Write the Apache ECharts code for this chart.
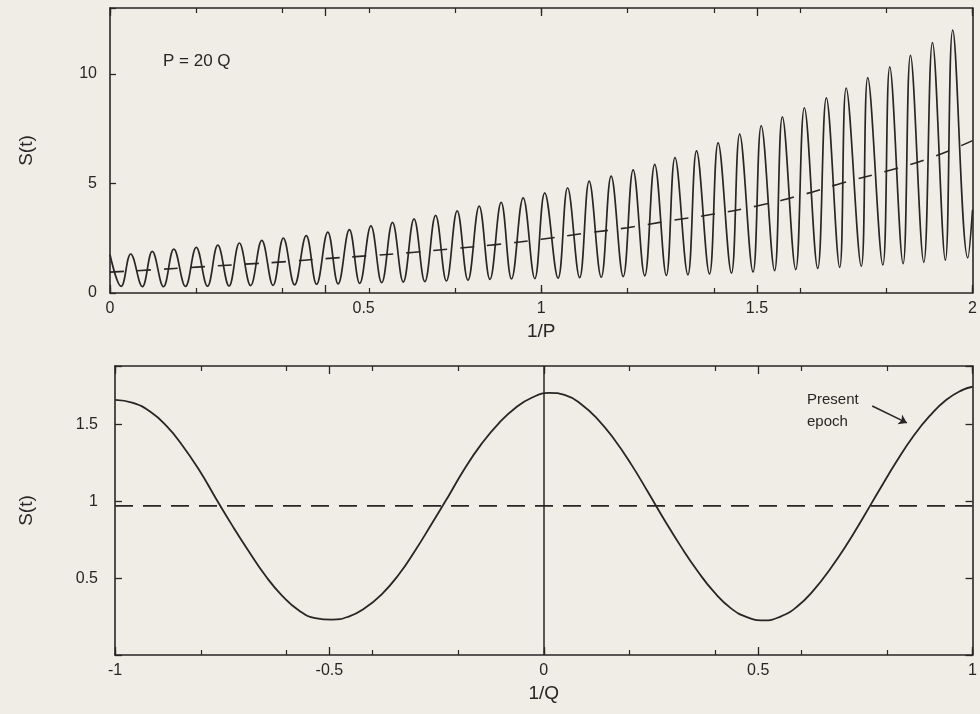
<!DOCTYPE html>
<html>
<head>
<meta charset="utf-8">
<script src="https://cdn.jsdelivr.net/npm/echarts/dist/echarts.min.js"></script>
<style>
  html, body { margin: 0; padding: 0; background: #f0ede6; }
  #chart { width: 980px; height: 714px; }
</style>
</head>
<body>
<div id="chart"></div>
<script>
// ---------- Top panel: S(t) against 1/P  (P = 20 Q) ----------
const topPeakX = [0, 0.048, 0.098, 0.148, 0.2, 0.25, 0.3, 0.352, 0.402, 0.455,
  0.505, 0.555, 0.605, 0.655, 0.705, 0.755, 0.805, 0.856, 0.907, 0.958,
  1.008, 1.061, 1.111, 1.162, 1.213, 1.263, 1.31, 1.36, 1.41, 1.46,
  1.51, 1.559, 1.61, 1.661, 1.707, 1.757, 1.808, 1.856, 1.907, 1.954];
const topPeakS = [1.75, 1.78, 1.9, 2.0, 2.08, 2.18, 2.28, 2.4, 2.5, 2.62,
  2.78, 2.89, 3.06, 3.22, 3.38, 3.54, 3.75, 3.96, 4.13, 4.34,
  4.57, 4.8, 5.1, 5.33, 5.62, 5.87, 6.18, 6.48, 6.85, 7.25,
  7.63, 8.03, 8.45, 8.9, 9.35, 9.82, 10.31, 10.84, 11.42, 11.99];
const topTroughX = [0.026, 0.075, 0.124, 0.175, 0.226, 0.276, 0.326, 0.378, 0.428, 0.479,
  0.529, 0.579, 0.63, 0.68, 0.73, 0.78, 0.83, 0.881, 0.931, 0.985,
  1.039, 1.089, 1.139, 1.19, 1.24, 1.29, 1.34, 1.39, 1.441, 1.491,
  1.541, 1.59, 1.641, 1.692, 1.742, 1.792, 1.839, 1.887, 1.937, 1.989];
const topTroughS = [0.3, 0.29, 0.29, 0.3, 0.31, 0.32, 0.34, 0.35, 0.37, 0.4,
  0.42, 0.44, 0.47, 0.5, 0.52, 0.55, 0.58, 0.62, 0.64, 0.66,
  0.68, 0.7, 0.72, 0.75, 0.78, 0.8, 0.83, 0.87, 0.91, 0.96,
  1.02, 1.07, 1.12, 1.17, 1.22, 1.28, 1.34, 1.4, 1.5, 1.6];
const topEndX = 2.0;
const topEndS = 3.8;

const topMeanX = [0, 0.1, 0.2, 0.3, 0.4, 0.5, 0.6, 0.7, 0.8, 0.9, 1.0,
  1.1, 1.2, 1.3, 1.4, 1.5, 1.6, 1.7, 1.8, 1.9, 2.0];
const topMeanS = [0.95, 1.06, 1.18, 1.3, 1.42, 1.57, 1.7, 1.85, 2.03, 2.22, 2.45,
  2.72, 2.98, 3.3, 3.6, 3.97, 4.45, 5.03, 5.55, 6.15, 6.95];

// ---------- Bottom panel: S(t) against 1/Q ----------
const botX = [-1, -0.958, -0.919, -0.88, -0.842, -0.803, -0.765, -0.726, -0.687, -0.649,
  -0.61, -0.571, -0.533, -0.494, -0.455, -0.417, -0.378, -0.339, -0.301, -0.262,
  -0.223, -0.185, -0.146, -0.104, -0.065, -0.027, 0.012, 0.05, 0.088, 0.127,
  0.165, 0.204, 0.243, 0.281, 0.32, 0.359, 0.397, 0.436, 0.475, 0.513,
  0.552, 0.591, 0.629, 0.668, 0.707, 0.745, 0.784, 0.823, 0.861, 0.9,
  0.939, 0.977, 1.0];
const botS = [1.66, 1.64, 1.585, 1.49, 1.36, 1.2, 1.02, 0.84, 0.67, 0.515,
  0.385, 0.29, 0.24, 0.23, 0.25, 0.305, 0.395, 0.52, 0.675, 0.85,
  1.03, 1.21, 1.37, 1.51, 1.61, 1.675, 1.705, 1.69, 1.63, 1.53,
  1.4, 1.24, 1.06, 0.88, 0.705, 0.545, 0.41, 0.305, 0.245, 0.225,
  0.25, 0.315, 0.42, 0.56, 0.72, 0.895, 1.08, 1.26, 1.42, 1.555,
  1.66, 1.725, 1.745];
const botMeanS = 0.97;
const epochArrowFrom = [0.766, 1.62];
const epochArrowTo = [0.847, 1.51];

// ---------- tick / axis labels ----------
const topXLabels = ['0', '0.5', '1', '1.5', '2'];
const botXLabels = ['-1', '-0.5', '0', '0.5', '1'];

// ---------- build ----------
const INK = '#262626';
const FONT = 'Liberation Sans';

const topCurve = [];
for (let i = 0; i < topPeakX.length; i++) {
  topCurve.push([topPeakX[i], topPeakS[i]]);
  topCurve.push([topTroughX[i], topTroughS[i]]);
}
topCurve.push([topEndX, topEndS]);
const topMean = topMeanX.map((x, i) => [x, topMeanS[i]]);
const botCurve = botX.map((x, i) => [x, botS[i]]);
const botMean = [[botX[0], botMeanS], [botX[botX.length - 1], botMeanS]];

function labelFor(list, min, v) {
  const idx = Math.round((v - min) / 0.5);
  return list[idx] !== undefined ? list[idx] : '';
}

function xAxes(grid, min, max, labels, name, shift05) {
  const line = { show: true, onZero: false, lineStyle: { color: INK, width: 1.6 } };
  const noLine = { show: false, onZero: false };
  return [
    { type: 'value', gridIndex: grid, position: 'bottom', min, max, interval: 0.5,
      axisLine: line, splitLine: { show: false },
      axisTick: { show: true, inside: true, length: 8, lineStyle: { color: INK, width: 1.3 } },
      axisLabel: { show: true, margin: 8, color: INK, fontFamily: FONT, fontSize: 16,
        formatter: v => {
          const t = labelFor(labels, min, v);
          return (shift05 && Math.abs(v - 0.5) < 1e-6) ? '{sh|' + t + '}' : t;
        },
        rich: { sh: { padding: [0, 0, 0, 76], fontFamily: FONT, fontSize: 16, color: INK } } },
      name, nameLocation: 'middle', nameGap: 29,
      nameTextStyle: { color: INK, fontFamily: FONT, fontSize: 19 } },
    { type: 'value', gridIndex: grid, position: 'bottom', min, max, interval: 0.2,
      axisLine: noLine, splitLine: { show: false }, axisLabel: { show: false },
      axisTick: { show: true, inside: true, length: 5, lineStyle: { color: INK, width: 1.2 } } },
    { type: 'value', gridIndex: grid, position: 'top', min, max, interval: 0.5,
      axisLine: line, splitLine: { show: false }, axisLabel: { show: false },
      axisTick: { show: true, inside: true, length: 8, lineStyle: { color: INK, width: 1.3 } } },
    { type: 'value', gridIndex: grid, position: 'top', min, max, interval: 0.2,
      axisLine: noLine, splitLine: { show: false }, axisLabel: { show: false },
      axisTick: { show: true, inside: true, length: 5, lineStyle: { color: INK, width: 1.2 } } }
  ];
}

const option = {
  backgroundColor: '#f0ede6',
  animation: false,
  grid: [
    { left: 110, right: 7, top: 8, bottom: 421, containLabel: false },
    { left: 115, right: 0, top: 366, bottom: 59, containLabel: false }
  ],
  xAxis: [
    ...xAxes(0, 0, 2, topXLabels, '1/P', true),
    ...xAxes(1, -1, 1, botXLabels, '1/Q', false)
  ],
  yAxis: [
    { type: 'value', gridIndex: 0, position: 'left', min: 0, max: 13, interval: 5,
      axisLine: { show: true, onZero: false, lineStyle: { color: INK, width: 1.6 } },
      axisTick: { show: true, inside: true, length: 6, lineStyle: { color: INK, width: 1.3 } },
      splitLine: { show: false }, showMaxLabel: false,
      axisLabel: { margin: 13, color: INK, fontFamily: FONT, fontSize: 16,
        formatter: v => (v > 12 ? '' : String(v)) },
      name: 'S(t)', nameLocation: 'middle', nameGap: 74, nameRotate: 90,
      nameTextStyle: { color: INK, fontFamily: FONT, fontSize: 19 } },
    { type: 'value', gridIndex: 0, position: 'right', min: 0, max: 13, interval: 5,
      axisLine: { show: true, onZero: false, lineStyle: { color: INK, width: 1.6 } },
      axisTick: { show: false }, axisLabel: { show: false }, splitLine: { show: false } },
    { type: 'value', gridIndex: 1, position: 'left', min: 0, max: 1.88, interval: 0.5,
      axisLine: { show: true, onZero: false, lineStyle: { color: INK, width: 1.6 } },
      axisTick: { show: true, inside: true, length: 7, lineStyle: { color: INK, width: 1.3 } },
      splitLine: { show: false }, showMaxLabel: false,
      axisLabel: { margin: 17, color: INK, fontFamily: FONT, fontSize: 16,
        formatter: v => (v === 0 || v > 1.6 ? '' : String(v)) },
      name: 'S(t)', nameLocation: 'middle', nameGap: 79, nameRotate: 90,
      nameTextStyle: { color: INK, fontFamily: FONT, fontSize: 19 } },
    { type: 'value', gridIndex: 1, position: 'right', min: 0, max: 1.88, interval: 0.5,
      axisLine: { show: true, onZero: false, lineStyle: { color: INK, width: 1.6 } },
      axisTick: { show: true, inside: true, length: 7, lineStyle: { color: INK, width: 1.3 } },
      axisLabel: { show: false }, splitLine: { show: false } }
  ],
  series: [
    { name: 'S top', type: 'line', xAxisIndex: 0, yAxisIndex: 0, data: topCurve,
      smooth: 0.4, showSymbol: false, silent: true,
      lineStyle: { color: INK, width: 1.7 } },
    { name: 'mean top', type: 'line', xAxisIndex: 0, yAxisIndex: 0, data: topMean,
      smooth: true, showSymbol: false, silent: true,
      lineStyle: { color: INK, width: 1.6, type: [14, 13] } },
    { name: 'S bottom', type: 'line', xAxisIndex: 4, yAxisIndex: 2, data: botCurve,
      smooth: 0.5, showSymbol: false, silent: true,
      lineStyle: { color: INK, width: 1.8 },
      markLine: {
        silent: true, animation: false,
        label: { show: false },
        data: [
          [{ xAxis: 0, yAxis: 0, symbol: 'none' }, { xAxis: 0, yAxis: 1.88, symbol: 'none' }],
          [{ coord: epochArrowFrom, symbol: 'none' }, { coord: epochArrowTo, symbol: 'arrow', symbolSize: 8 }]
        ],
        lineStyle: { color: INK, width: 1.5, type: 'solid' }
      } },
    { name: 'mean bottom', type: 'line', xAxisIndex: 4, yAxisIndex: 2, data: botMean,
      showSymbol: false, silent: true,
      lineStyle: { color: INK, width: 1.9, type: [18, 10] } }
  ],
  graphic: [
    { type: 'text', left: 163, top: 53,
      style: { text: 'P = 20 Q', fill: INK, font: '17px "Liberation Sans"' } },
    { type: 'text', left: 807, top: 389,
      style: { text: 'Present\nepoch', fill: INK, font: '15px "Liberation Sans"', lineHeight: 22 } }
  ]
};

const chart = echarts.init(document.getElementById('chart'), null, { renderer: 'canvas' });
chart.setOption(option);
</script>
</body>
</html>
